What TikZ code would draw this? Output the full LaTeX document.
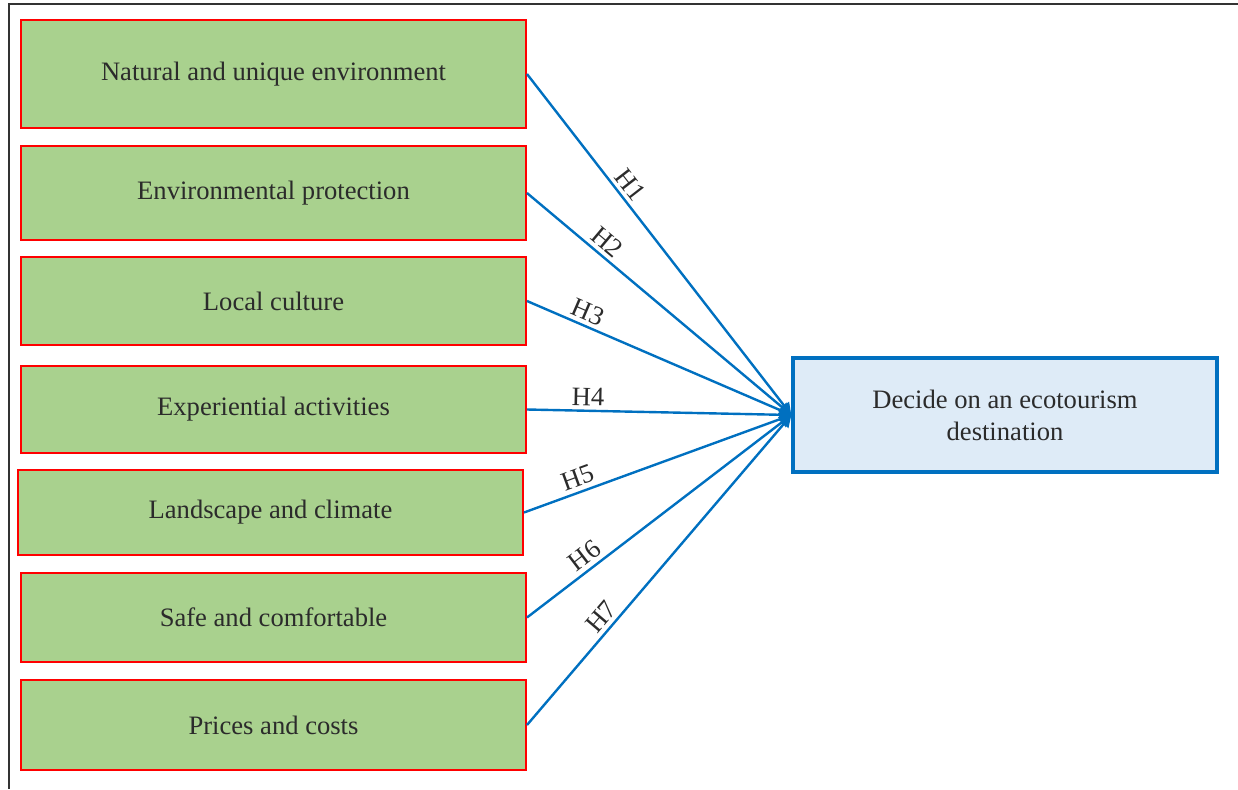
\documentclass[tikz,border=0pt]{standalone}
\usepackage{fontspec}
\setmainfont{Liberation Serif}
\usetikzlibrary{arrows.meta}
\definecolor{boxgreen}{HTML}{A9D18E}
\definecolor{linkblue}{HTML}{0070C0}
\definecolor{goalblue}{HTML}{DEEBF7}
\definecolor{txtgray}{HTML}{2B2B2B}
\tikzset{
  factor/.style={draw=red,line width=1pt,fill=boxgreen,text=txtgray,
    minimum width=252.5pt,inner sep=0pt,font=\fontsize{13.3}{16}\selectfont},
  goal/.style={draw=linkblue,line width=1.6pt,fill=goalblue,text=txtgray,
    minimum width=212pt,minimum height=57pt,align=center,
    font=\fontsize{13.3}{16}\selectfont},
  link/.style={linkblue,line width=1.2pt,-{Triangle[length=6pt,width=6pt]}},
  hlab/.style={sloped,above,inner sep=2pt,text=txtgray,font=\fontsize{13.3}{16}\selectfont}
}
\begin{document}
\begin{tikzpicture}[x=0.5pt,y=-0.5pt]
  % factors on the left, one goal on the right
  \useasboundingbox (0,0) rectangle (1238,789);
  \draw[black!80,line width=0.8pt] (1238,4) -- (9,4) -- (9,789);
  \foreach \i/\xc/\yc/\hh/\txt in {
      1/273.5/74/54/Natural and unique environment,
      2/273.5/193/47/Environmental protection,
      3/273.5/301/44/Local culture,
      4/273.5/409.5/43.5/Experiential activities,
      5/270.5/512.5/42.5/Landscape and climate,
      6/273.5/617.5/44.5/Safe and comfortable,
      7/273.5/725/45/Prices and costs}
    \node[factor,minimum height=\hh pt] (f\i) at (\xc,\yc) {\txt};
  \node[goal] (goal) at (1005,415) {Decide on an ecotourism\\destination};
  \foreach \i/\p in {1/0.35,2/0.27,3/0.21,4/0.23,5/0.22,6/0.25,7/0.32}
    \draw[link] (f\i.east) -- node[hlab,pos=\p] {H\i} (goal.west);
\end{tikzpicture}
\end{document}
